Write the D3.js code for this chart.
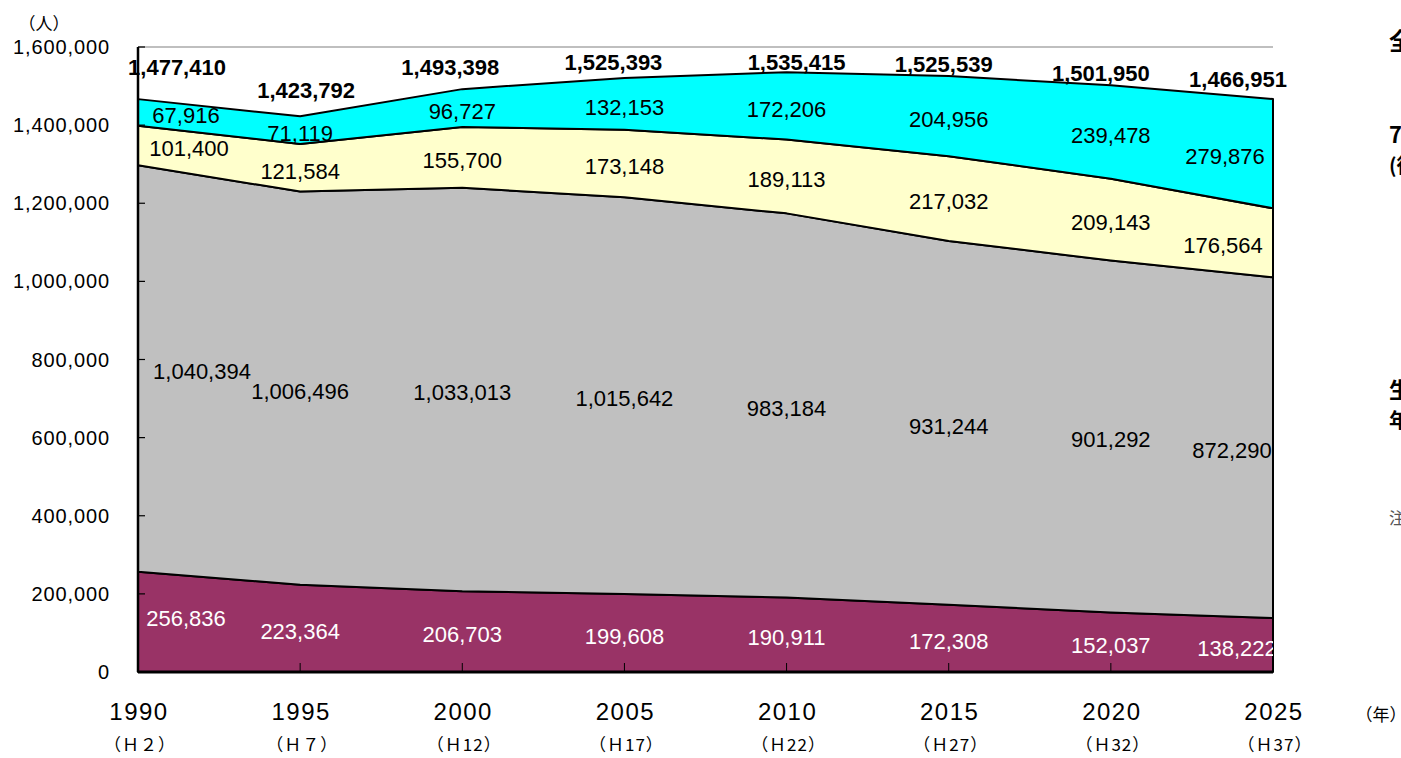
<!DOCTYPE html>
<html>
<head>
<meta charset="utf-8">
<script src="https://cdn.jsdelivr.net/npm/d3@7"></script>
<style>
  body { margin: 0; background: #fff; overflow: hidden; }
  text { font-family: "Liberation Sans", Arial, sans-serif; }
  .jp { font-family: "Noto Sans CJK JP", sans-serif; }
</style>
</head>
<body>
<div id="chart"></div>
<script>
// data
const years = [1990, 1995, 2000, 2005, 2010, 2015, 2020, 2025];
const eraLabels = ["（Ｈ２）", "（Ｈ７）", "（Ｈ12）", "（Ｈ17）", "（Ｈ22）", "（Ｈ27）", "（Ｈ32）", "（Ｈ37）"];
const young   = [256836, 223364, 206703, 199608, 190911, 172308, 152037, 138222];
const working = [1040394, 1006496, 1033013, 1015642, 983184, 931244, 901292, 872290];
const early   = [101400, 121584, 155700, 173148, 189113, 217032, 209143, 176564];
const late    = [67916, 71119, 96727, 132153, 172206, 204956, 239478, 279876];
const totals  = [1477410, 1423792, 1493398, 1525393, 1535415, 1525539, 1501950, 1466951];
const yTicks  = [0, 200000, 400000, 600000, 800000, 1000000, 1200000, 1400000, 1600000];

// layout
const width = 1401, height = 758;
const plotL = 138, plotR = 1273, plotT = 47, plotB = 672;
// label nudges for the total labels (dx, dy) as placed in the original
const totalNudge = [[39, -28], [6, -26], [-12, -21], [-11, -14], [10, -10], [-5, -12], [-10, -12], [-35, -20]];
// first / last point label shifts per band
const firstDx = { young: 48, working: 64, early: 51, late: 48 };
const firstDy = { young: -7, working: 0, early: 0, late: 0 };
const lastDx = { young: -36, working: -41, early: -50, late: -48 };

const keys = ["young", "working", "early", "late"];
const colors = { young: "#993366", working: "#C0C0C0", early: "#FFFFCC", late: "#00FFFF" };
const labelColor = { young: "#fff", working: "#000", early: "#000", late: "#000" };

const table = years.map((yr, i) => ({
  year: yr, young: young[i], working: working[i], early: early[i], late: late[i]
}));

const svg = d3.select("#chart").append("svg")
  .attr("width", width)
  .attr("height", height)
  .style("background", "#fff");

const x = d3.scaleLinear().domain([1990, 2025]).range([plotL, plotR]);
const y = d3.scaleLinear().domain([0, 1600000]).range([plotB, plotT]);

svg.append("defs").append("clipPath").attr("id", "plotclip")
  .append("rect").attr("x", plotL).attr("y", plotT).attr("width", plotR - plotL).attr("height", plotB - plotT);

// plot top border
svg.append("line")
  .attr("x1", plotL).attr("x2", plotR)
  .attr("y1", plotT).attr("y2", plotT)
  .attr("stroke", "#808080").attr("stroke-width", 1.2);

const series = d3.stack().keys(keys)(table);

const area = d3.area()
  .x(d => x(d.data.year))
  .y0(d => y(d[0]))
  .y1(d => y(d[1]));

svg.append("g").selectAll("path")
  .data(series)
  .enter().append("path")
  .attr("d", area)
  .attr("fill", d => colors[d.key])
  .attr("stroke", "#000")
  .attr("stroke-width", 2)
  .attr("stroke-linejoin", "round");

// axes (drawn by hand to match the excel look)
const yAxis = svg.append("g");
yAxis.append("line")
  .attr("x1", plotL).attr("x2", plotL).attr("y1", plotT).attr("y2", plotB)
  .attr("stroke", "#000").attr("stroke-width", 2.5);
yAxis.selectAll(".tick").data(yTicks).enter().append("line")
  .attr("x1", plotL).attr("x2", plotL + 7)
  .attr("y1", d => y(d)).attr("y2", d => y(d))
  .attr("stroke", "#000").attr("stroke-width", 1.2);
yAxis.selectAll(".lab").data(yTicks).enter().append("text")
  .attr("x", 110)
  .attr("y", d => y(d))
  .attr("dy", "0.35em")
  .attr("text-anchor", "end")
  .style("font-size", "20px")
  .style("letter-spacing", "0.9px")
  .text(d => d3.format(",")(d));

svg.append("text").attr("class", "jp")
  .attr("x", 44).attr("y", 24).attr("dy", "0.35em")
  .attr("text-anchor", "middle")
  .style("font-size", "17px")
  .text("（人）");

const xAxis = svg.append("g");
xAxis.append("line")
  .attr("x1", plotL).attr("x2", plotR).attr("y1", plotB).attr("y2", plotB)
  .attr("stroke", "#000").attr("stroke-width", 3);
xAxis.selectAll(".tick").data(years).enter().append("line")
  .attr("x1", d => x(d)).attr("x2", d => x(d))
  .attr("y1", plotB).attr("y2", plotB - 9)
  .attr("stroke", "#000").attr("stroke-width", 1);
xAxis.selectAll(".yr").data(years).enter().append("text")
  .attr("x", d => x(d) + 1)
  .attr("y", 712)
  .attr("dy", "0.35em")
  .attr("text-anchor", "middle")
  .style("font-size", "24px")
  .style("letter-spacing", "1.5px")
  .text(d => d);
xAxis.selectAll(".era").data(eraLabels).enter().append("text")
  .attr("class", "jp")
  .attr("x", (d, i) => x(years[i]) + 2)
  .attr("y", 745)
  .attr("dy", "0.35em")
  .attr("text-anchor", "middle")
  .style("font-size", "17px")
  .style("letter-spacing", "1px")
  .text(d => d);

svg.append("text").attr("class", "jp")
  .attr("x", 1381).attr("y", 715).attr("dy", "0.35em")
  .attr("text-anchor", "middle")
  .style("font-size", "17px")
  .text("（年）");

// band labels
const n = years.length;
const labelDx = (key, i) => (i === 0 ? firstDx[key] : i === n - 1 ? lastDx[key] : 0);
const labels = svg.append("g").attr("clip-path", "url(#plotclip)");
series.forEach(s => {
  labels.selectAll(".l-" + s.key).data(s).enter().append("text")
    .attr("x", (d, i) => x(d.data.year) + labelDx(s.key, i))
    .attr("y", (d, i) => y((d[0] + d[1]) / 2) + 3 + (i === 0 ? firstDy[s.key] : 0))
    .attr("dy", "0.35em")
    .attr("text-anchor", "middle")
    .attr("fill", labelColor[s.key])
    .style("font-size", "22px")
    .text(d => d3.format(",")(d.data[s.key]));
});

// total labels
svg.append("g").selectAll("text")
  .data(totals).enter().append("text")
  .attr("x", (d, i) => x(years[i]) + totalNudge[i][0])
  .attr("y", (d, i) => y(d) + totalNudge[i][1])
  .attr("dy", "0.35em")
  .attr("text-anchor", "middle")
  .style("font-size", "22px")
  .style("font-weight", "bold")
  .text(d => d3.format(",")(d));

// legend text that runs off the right edge
const legendLines = [
  { t: "全体", y: 42, bold: true, size: 24 },
  { t: "75歳以上", y: 135, bold: true, size: 22 },
  { t: "(後期高齢者)", y: 166, bold: true, size: 20 },
  { t: "生産年齢人口", y: 390, bold: true, size: 22 },
  { t: "年齢15～64歳", y: 421, bold: true, size: 20 },
  { t: "注", y: 518, bold: false, size: 16 }
];
svg.append("g").selectAll("text")
  .data(legendLines).enter().append("text")
  .attr("class", "jp")
  .attr("x", 1389)
  .attr("y", d => d.y)
  .attr("dy", "0.35em")
  .attr("fill", d => d.bold ? "#000" : "#555")
  .style("font-size", d => d.size + "px")
  .style("font-weight", d => d.bold ? "bold" : "normal")
  .text(d => d.t);
</script>
</body>
</html>
